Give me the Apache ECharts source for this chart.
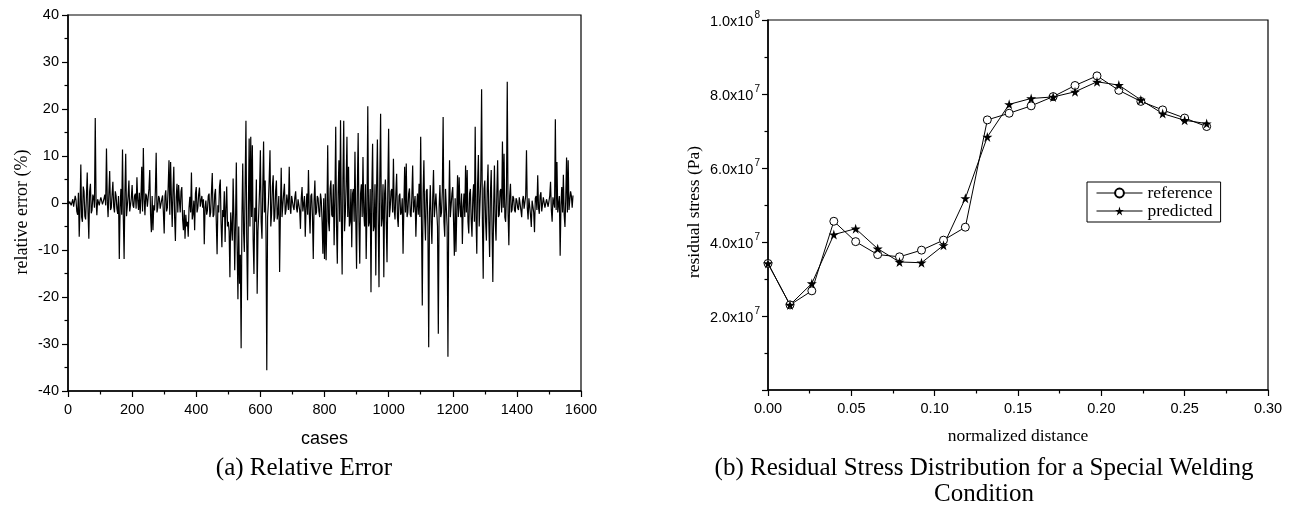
<!DOCTYPE html>
<html>
<head>
<meta charset="utf-8">
<script src="https://cdn.jsdelivr.net/npm/echarts@6/dist/echarts.min.js"></script>
<style>
html,body{margin:0;padding:0;background:#fff;}
#c{width:1295px;height:514px;}
</style>
</head>
<body>
<div id="c"></div>
<script>
// ---- Panel (a): relative error (%) read every 2.5 cases ----
const caseStep = 2.5;
const relError = [
  0.5,-0.2, 0.3,0.6, -0.5,0.2, 0.8,-0.8, -1.2,1.5, 0.6,-1.8, -2.5,2.2, -7.2,-1, 8.2,-3, -4,3.5, 2.5,-2.8, -3.5,1.5, 6.5,-2, -7.6,2.5, 4.1,-2.2, -1.5,1.8, 1.2,-1, 18.1,0.5, -2.6,0.8, 1,-0.5,
  0.5,1.2, 1.5,-0.3, 0.3,1, 1.8,-0.5, 11.6,0.5, -3,2, 6.8,-1.5, -1,1.8, 4.5,-0.8, -2,2.5, 1.5,-1.2, -2.3,1.5, -11.9,-1, 3,-2.5, 11.4,-3, -11.9,2, 10.5,-2.8, -3,1.5, 4.8,-1.8, -1.5,1,
  3.8,-0.5, -1,1.5, 2,-1.2, 5.5,0.5, -1.5,2.2, -2.3,1, 7.7,-1.8, 11.7,0.8, -2.6,2, 1.5,-0.8, -1,3, 7,-2.5, -6.2,1.5, -5.8,-0.5, -1.6,2.5, 10.7,-2, -1,1.5, 1,-1.2, -1.5,0.8, 1.6,-2,
  -6.5,1.5, 2.7,-1.8, -1,3.5, 9.1,-2.5, 8.7,1, -5.1,2.8, 7.7,-3, -8.1,1.2, 4.1,-2, 3.8,0.5, -2,2.5, 3.4,-3.5, -5.8,-1.5, -7.6,-2.5, -5,-4, -7.2,-1, 1.3,-2, 6.5,-3.5, -2.3,0.5, -5.8,2,
  3.4,-2, -1,1.8, 3.3,-0.8, 0.5,1.5, -1,0.8, -8.8,-1, 0.5,-2.5, -1.5,1.5, 2,-3, -2,2.5, 6.4,-3, -2.5,1.8, 3,-4, -10.9,-0.5, -2,3.5, 5,-4.5, -9.4,-1.5, -3,2.5, -8.3,-1, 3.5,-5,
  -4,-6, -15.8,-2, -5,-8, 5.2,-3, -14.3,-4, 8.6,-9, -20.5,-5, -17.2,-11, -30.9,-3, 8.4,-6, -10.4,4, 17.5,-8, -20.7,-2, 13.7,-5, 14.1,-3, 12.3,-8, -15.1,-1, -4,5, -19.3,-6, -2,3,
  11.2,-4, -7.6,3, 13.1,-2, 4.8,-6, -35.6,-3, 0,5, 11.2,-5, -2.3,3.5, 5.9,-4, -3,2.5, 4.8,-3.5, -2,1.5, -14.7,-2, 7.5,-3, -3,2, 4.1,-2.5, -1.5,1.8, 2,-1.5, 7.7,-1, -2.3,1.5,
  1.5,-0.8, -1.5,1.2, 2.5,-1, -2,0.8, 1,-1.5, -5.5,1, 3.4,-1.8, -2,1.5, -7.2,-1, 2,-2.5, 7,-2, -6.5,1.5, 2,-3, -11.9,0.5, 4.8,-2.5, -2,1.5, 1,-1.8, -3,2, 0.5,-4, -10.8,1,
  -11.9,2, -12.2,-3, 12.3,-4, -6,3, 4.8,-2.5, -3,4, -9,1, 16.2,-5, -12.9,2, 9.1,-4, 17.6,-3, -15.2,5, 17.5,-6, -2.3,4, 14.1,-3, 7.7,-5, -4,3, -9.4,2, 3,-4, 10.9,-3,
  -14,3, 14.9,-4, -12.9,2, 4,-3, 9.8,-2, -5,4, -11.9,-1, 20.6,-5, -4,3, -19,2, 12.6,-6, -5,4, -15.4,3, 13.5,-4, -17.9,5, 19,-5, -3,4, -15.8,2, 5,-4, -12.6,3,
  15.8,-3, -1,2.5, 3,-2, 9.4,-1.5, -3.5,2, 6.2,-3, -5.1,1.5, 2,-2.5, -2,1, -10.8,-1, 7.7,-2, 8.4,-3, -2,2, 3.1,-2.5, -3,1.5, 8,-2, -2,1.5, -7.2,-1, 2,-2.5, 4.1,-3,
  14.1,-4, -21.8,2, 9.1,-3, -8,2.5, 3,-5, -30.7,-2, 3.8,-4, -8.7,1, 7,-3, -3,2, 2,-5, -27.8,-1, 3.8,-3, -2,2.5, 18.3,-4, -7.2,3, 3.4,-5, -32.7,-2, 9.1,-3, -3,2,
  3.4,-4, -11.2,1, -10.4,-2, 5.9,-3, 5.5,-1, -3,2, -8.7,-1, 2,-3, 8,-2, 7,-4, -6.5,2, 3,-3.5, -7.2,1, 4,-4, 16.2,-3, -10.8,4, 10.2,-5, -5,5, 24.2,-4, -16.1,3,
  4.8,-4, -8,3, 8.2,-4, -11.5,2, 7,-5, -16.8,-1, 8,-4, -8,2, 9.1,-3, -2.5,2.5, 3,-2, 13.1,-1, 10.5,-3, -4,2, 25.8,-2, -9,1.5, 4.1,-2, -1.5,1.5, 1,-1.5, -2,1,
  0.5,-1, -1.5,1.2, 1,-1.5, -3,0.5, 1.5,-1.2, -1,1.5, 11.2,-1, -3.5,1, 1,-2.5, -5.1,0.5, 0.5,-2, -6.2,1, 1.5,-1.5, 5.9,-1, -2.3,1.5, 2.3,-1.8, -1.6,1.2, 1,-1, -1,0.8, 0.5,-0.8,
  -1,1.5, 4.5,-1.5, -4,1.2, 1,-1, 17.8,-1.5, 8.7,-2, -2,1.5, -11.2,-0.5, 3.4,-2, 6,-2.5, -5.1,1, 9.7,-2, 9.1,-1.5, -1.6,2.5, 1.5,-1, 1.6
];
const errTicksX = [0, 200, 400, 600, 800, 1000, 1200, 1400, 1600];
const errTicksY = [-40, -30, -20, -10, 0, 10, 20, 30, 40];

// ---- Panel (b): residual stress (Pa) ----
const distance = [0, 0.0132, 0.0263, 0.0395, 0.0526, 0.0658, 0.0789, 0.0921, 0.1053, 0.1184, 0.1316,
                  0.1447, 0.1579, 0.1711, 0.1842, 0.1974, 0.2105, 0.2237, 0.2368, 0.25, 0.2632];
const referenceStress = [3.42e7, 2.30e7, 2.68e7, 4.56e7, 4.01e7, 3.66e7, 3.60e7, 3.78e7, 4.05e7, 4.40e7, 7.30e7,
                         7.48e7, 7.68e7, 7.93e7, 8.23e7, 8.49e7, 8.10e7, 7.80e7, 7.57e7, 7.35e7, 7.12e7];
const predictedStress = [3.42e7, 2.30e7, 2.88e7, 4.20e7, 4.36e7, 3.82e7, 3.46e7, 3.44e7, 3.91e7, 5.18e7, 6.84e7,
                         7.72e7, 7.88e7, 7.92e7, 8.06e7, 8.33e7, 8.24e7, 7.84e7, 7.47e7, 7.29e7, 7.20e7];
const stressTickLabels = {2e7: ['2.0x10', '7'], 4e7: ['4.0x10', '7'], 6e7: ['6.0x10', '7'], 8e7: ['8.0x10', '7'], 1e8: ['1.0x10', '8']};

const SANS = 'Liberation Sans, Arial, sans-serif';
const SERIF = 'Liberation Serif, Times New Roman, serif';

const errData = relError.map((v, i) => [i * caseStep, v]);
const refData = distance.map((x, i) => [x, referenceStress[i]]);
const predData = distance.map((x, i) => [x, predictedStress[i]]);

const STAR = 'path://M50,0 L61,35 L98,35 L68,57 L79,91 L50,70 L21,91 L32,57 L2,35 L39,35 Z';

const axisCommon = {
  axisLine: {show: true, onZero: false, lineStyle: {color: '#000', width: 1.5}},
  axisTick: {show: true, inside: false, length: 6, lineStyle: {color: '#000', width: 1.2}},
  minorTick: {show: true, splitNumber: 2, length: 3.5, lineStyle: {color: '#000', width: 1.2}},
  splitLine: {show: false},
  minorSplitLine: {show: false}
};

function textEl(txt, x, y, font, rot) {
  return {type: 'text', x: x, y: y, rotation: rot || 0, silent: true,
          style: {text: txt, x: 0, y: 0, font: font, fill: '#000', textAlign: 'center', textVerticalAlign: 'middle'}};
}

const chart = echarts.init(document.getElementById('c'), null, {renderer: 'canvas'});
chart.setOption({
  animation: false,
  backgroundColor: '#fff',
  grid: [
    {left: 68, top: 15, width: 513, height: 376, show: true, borderColor: '#000', borderWidth: 1.2, backgroundColor: 'transparent'},
    {left: 768, top: 20, width: 500, height: 370, show: true, borderColor: '#000', borderWidth: 1.2, backgroundColor: 'transparent'}
  ],
  xAxis: [
    Object.assign({}, axisCommon, {
      type: 'value', gridIndex: 0, min: errTicksX[0], max: errTicksX[errTicksX.length - 1], interval: 200,
      name: 'cases', nameLocation: 'middle', nameGap: 39,
      nameTextStyle: {fontFamily: SANS, fontSize: 18, color: '#000'},
      axisLabel: {fontFamily: SANS, fontSize: 14.5, color: '#000', margin: 11, formatter: v => String(v)}
    }),
    Object.assign({}, axisCommon, {
      type: 'value', gridIndex: 1, min: 0, max: 0.3, interval: 0.05,
      name: 'normalized distance', nameLocation: 'middle', nameGap: 37,
      nameTextStyle: {fontFamily: SERIF, fontSize: 17.5, color: '#000'},
      axisLabel: {fontFamily: SANS, fontSize: 14.5, color: '#000', margin: 11, formatter: v => v.toFixed(2)}
    })
  ],
  yAxis: [
    Object.assign({}, axisCommon, {
      type: 'value', gridIndex: 0, min: errTicksY[0], max: errTicksY[errTicksY.length - 1], interval: 10,
      axisLabel: {fontFamily: SANS, fontSize: 14.5, color: '#000', margin: 9, formatter: v => String(v)}
    }),
    Object.assign({}, axisCommon, {
      type: 'value', gridIndex: 1, min: 0, max: 1e8, interval: 2e7,
      axisLabel: {
        margin: 8, color: '#000',
        formatter: v => {
          const t = stressTickLabels[Math.round(v)];
          return t ? '{b|' + t[0] + '}{s|' + t[1] + '}' : '';
        },
        rich: {
          b: {fontFamily: SANS, fontSize: 14.5, color: '#000', lineHeight: 19, verticalAlign: 'bottom'},
          s: {fontFamily: SANS, fontSize: 10, color: '#000', lineHeight: 19, verticalAlign: 'top', padding: [0, 0, 0, 1]}
        }
      }
    })
  ],
  legend: {
    show: true, orient: 'vertical', left: 1087, top: 182,
    data: ['reference', 'predicted'],
    backgroundColor: '#fff', borderColor: '#000', borderWidth: 1, borderRadius: 0,
    padding: [2, 8, 2, 9], itemGap: 0, itemWidth: 46, itemHeight: 11,
    lineStyle: {width: 1},
    textStyle: {fontFamily: SERIF, fontSize: 17.5, color: '#000', lineHeight: 18}
  },
  series: [
    {
      name: 'relative error', type: 'line', xAxisIndex: 0, yAxisIndex: 0, data: errData,
      showSymbol: false, symbol: 'none', lineStyle: {color: '#000', width: 1.2}, silent: true
    },
    {
      name: 'reference', type: 'line', xAxisIndex: 1, yAxisIndex: 1, data: refData,
      symbol: 'circle', symbolSize: 8, showAllSymbol: true,
      itemStyle: {color: '#fff', borderColor: '#000', borderWidth: 1},
      lineStyle: {color: '#000', width: 1}
    },
    {
      name: 'predicted', type: 'line', xAxisIndex: 1, yAxisIndex: 1, data: predData,
      symbol: STAR, symbolSize: 10, showAllSymbol: true,
      itemStyle: {color: '#000', borderColor: '#000', borderWidth: 0},
      lineStyle: {color: '#000', width: 1}
    }
  ],
  graphic: [
    textEl('relative error (%)', 22, 212, '18px ' + SERIF, Math.PI / 2),
    textEl('residual stress (Pa)', 694, 212, '17.5px ' + SERIF, Math.PI / 2),
    textEl('(a) Relative Error', 304, 468, '25px ' + SERIF),
    textEl('(b) Residual Stress Distribution for a Special Welding', 984, 468, '25px ' + SERIF),
    textEl('Condition', 984, 494, '25px ' + SERIF)
  ]
});
</script>
</body>
</html>
